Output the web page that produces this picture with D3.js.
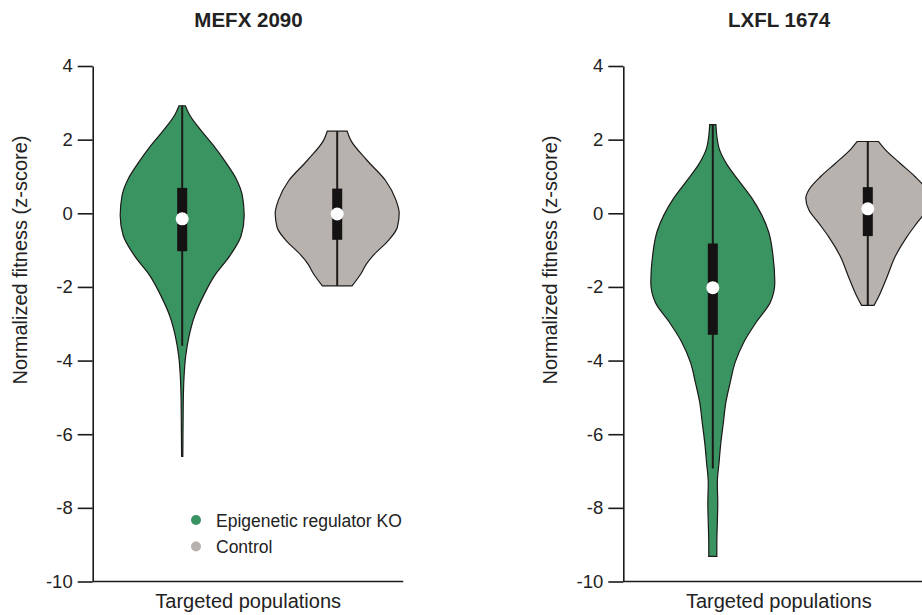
<!DOCTYPE html>
<html>
<head>
<meta charset="utf-8">
<script src="https://cdn.jsdelivr.net/npm/d3@7"></script>
<style>
  body { margin: 0; background: #fff; }
  text { font-family: Arial, "Liberation Sans", sans-serif; fill: #222; }
</style>
</head>
<body>
<svg id="chart" width="922" height="615"></svg>
<script>
// chart values
const titles = ["MEFX 2090", "LXFL 1674"];
const groups = ["Epigenetic regulator KO", "Control"];
const yTicks = [4, 2, 0, -2, -4, -6, -8, -10];

// violin outlines: [z-score, relative half width]
const mefxKo = [[2.92,0.05],[2.67,0.12],[2.3,0.28],[1.85,0.5],[1.39,0.7],[0.94,0.87],[0.48,0.97],[-0.06,1.0],[-0.61,0.95],[-1.15,0.77],[-1.7,0.52],[-2.25,0.34],[-2.79,0.2],[-3.34,0.11],[-3.88,0.056],[-4.43,0.03],[-4.88,0.02],[-5.5,0.015],[-6.1,0.012],[-6.6,0.01]];
const mefxCtrl = [[2.23,0.16],[1.98,0.22],[1.44,0.48],[0.89,0.78],[0.35,0.95],[0,1.0],[-0.38,0.97],[-0.75,0.82],[-1.11,0.6],[-1.38,0.47],[-1.65,0.38],[-1.97,0.24]];
const lxflKo = [[2.41,0.05],[2.1,0.065],[1.77,0.1],[1.32,0.23],[0.86,0.43],[0.41,0.63],[-0.05,0.79],[-0.5,0.9],[-1.14,0.97],[-1.87,1.0],[-2.41,0.93],[-2.96,0.7],[-3.5,0.5],[-4.05,0.36],[-4.6,0.28],[-5.14,0.21],[-5.69,0.17],[-6.23,0.13],[-6.78,0.1],[-7.32,0.073],[-7.87,0.08],[-8.41,0.073],[-8.96,0.065],[-9.32,0.065]];
const lxflCtrl = [[1.95,0.17],[1.73,0.28],[1.36,0.52],[1.0,0.76],[0.64,0.95],[0.41,1.0],[0.09,0.95],[-0.27,0.79],[-0.64,0.63],[-1.18,0.44],[-1.73,0.31],[-2.28,0.17],[-2.5,0.1]];

// box stats: [whisker top, q3, median, q1, whisker bottom]
const mefxKoBox = [2.92, 0.69, -0.15, -1.03, -3.6];
const mefxCtrlBox = [2.23, 0.67, -0.02, -0.72, -1.97];
const lxflKoBox = [2.41, -0.82, -2.02, -3.3, -6.93];
const lxflCtrlBox = [1.95, 0.71, 0.12, -0.62, -2.5];

const colors = ["#3a9462", "#b7b2ae"];
const dark = "#1c1a19";

const panels = [
  { title: titles[0], left: 92.7, violins: [mefxKo, mefxCtrl], boxes: [mefxKoBox, mefxCtrlBox], legend: true },
  { title: titles[1], left: 623.3, violins: [lxflKo, lxflCtrl], boxes: [lxflKoBox, lxflCtrlBox], legend: false }
];

const svg = d3.select("#chart");

const y = d3.scaleLinear().domain([-10, 4]).range([581.5, 66]);
const x = d3.scalePoint().domain(groups).range([89.5, 244.5]);
const w = d3.scaleLinear().domain([0, 1]).range([0, 62]);

panels.forEach(p => {
  const g = svg.append("g").attr("transform", `translate(${p.left},0)`);

  g.append("text")
    .attr("x", 155.8).attr("y", 27)
    .attr("text-anchor", "middle")
    .style("font-size", "20.5px").style("font-weight", "bold")
    .text(p.title);

  // violins
  p.violins.forEach((dens, i) => {
    const cx = x(groups[i]);
    const area = d3.area()
      .y(d => y(d[0]))
      .x0(d => cx - w(d[1]))
      .x1(d => cx + w(d[1]))
      .curve(d3.curveMonotoneY);
    g.append("path")
      .datum(dens)
      .attr("d", area)
      .attr("fill", colors[i])
      .attr("stroke", dark)
      .attr("stroke-width", 1.2);

    const b = p.boxes[i];
    g.append("line")
      .attr("x1", cx).attr("x2", cx)
      .attr("y1", y(b[0])).attr("y2", y(b[4]))
      .attr("stroke", dark).attr("stroke-width", 2);
    g.append("rect")
      .attr("x", cx - 5).attr("width", 10)
      .attr("y", y(b[1])).attr("height", y(b[3]) - y(b[1]))
      .attr("fill", "#141212");
    g.append("circle")
      .attr("cx", cx).attr("cy", y(b[2])).attr("r", 6.5)
      .attr("fill", "#fff");
  });

  // axes
  const ax = g.append("g")
    .call(d3.axisLeft(y).tickValues(yTicks).tickSize(15).tickPadding(5).tickSizeOuter(0));
  ax.select(".domain").attr("stroke", dark).attr("stroke-width", 1.6);
  ax.selectAll(".tick line").attr("stroke", dark).attr("stroke-width", 1.6);
  ax.selectAll(".tick text")
    .style("font-size", "18.5px")
    .style("font-family", "Arial, 'Liberation Sans', sans-serif")
    .attr("fill", "#222")
    .text(d => d < 0 ? "-" + Math.abs(d) : d);

  g.append("line")
    .attr("x1", 0).attr("x2", 310.5)
    .attr("y1", y(-10)).attr("y2", y(-10))
    .attr("stroke", dark).attr("stroke-width", 1.6);

  g.append("text")
    .attr("x", 155.5).attr("y", 608)
    .attr("text-anchor", "middle")
    .style("font-size", "20px")
    .text("Targeted populations");

  g.append("text")
    .attr("transform", "translate(-66,260) rotate(-90)")
    .attr("text-anchor", "middle")
    .style("font-size", "20px")
    .text("Normalized fitness (z-score)");

  if (p.legend) {
    const lg = g.append("g").attr("transform", "translate(103.3,520)");
    groups.forEach((name, i) => {
      lg.append("circle").attr("cx", 0).attr("cy", i * 26.5).attr("r", 5).attr("fill", colors[i]);
      lg.append("text").attr("x", 20).attr("y", i * 26.5 + 6.5)
        .style("font-size", "17.5px").text(i === 0 ? name : "Control");
    });
  }
});
</script>
</body>
</html>
